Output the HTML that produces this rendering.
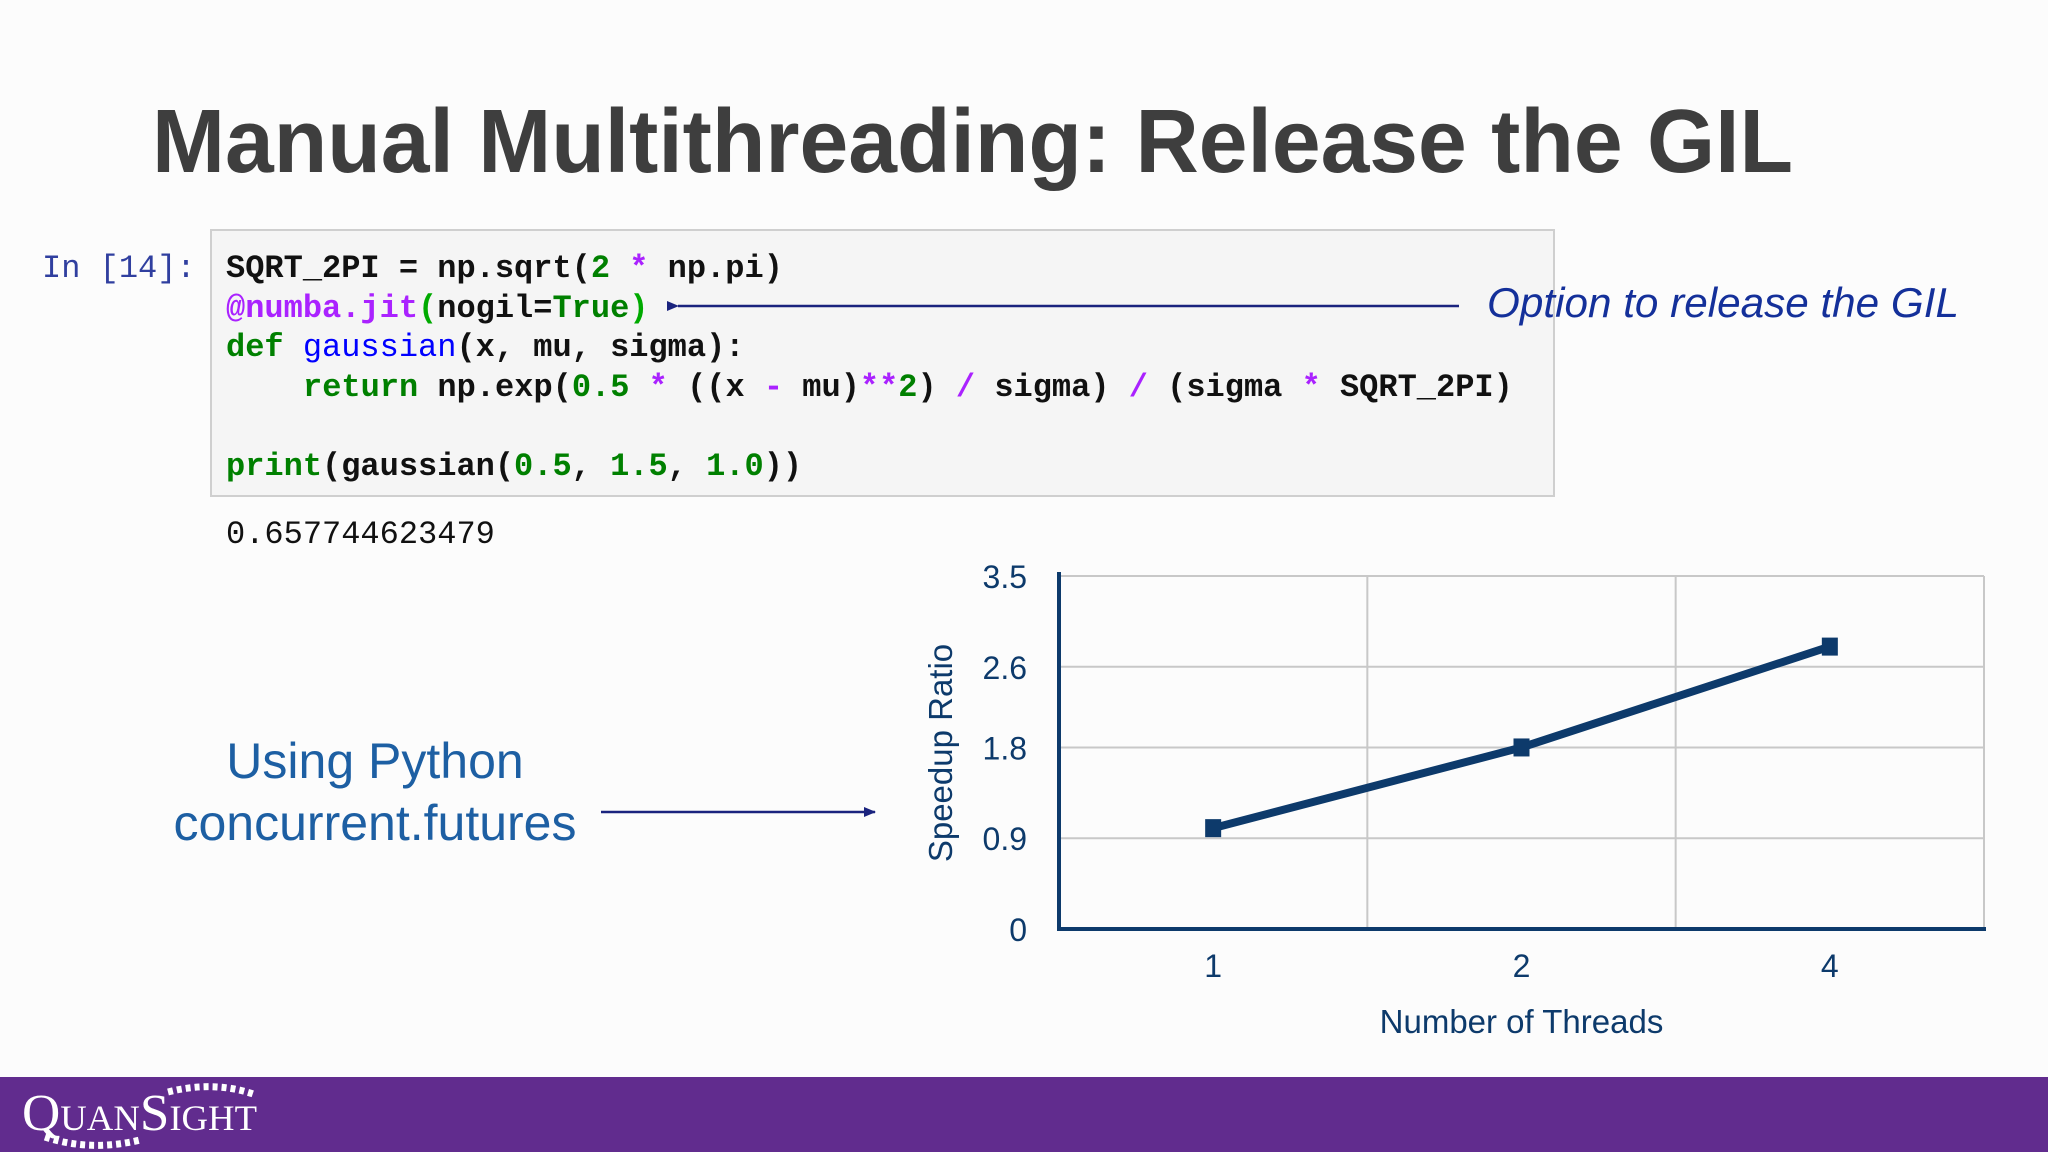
<!DOCTYPE html>
<html><head><meta charset="utf-8"><style>
html,body{margin:0;padding:0;width:2048px;height:1152px;overflow:hidden;background:#fcfcfc}
svg{display:block}
.mono{font-family:"Liberation Mono",monospace;font-size:32px;font-weight:bold;white-space:pre}
</style></head><body>
<svg width="2048" height="1152" viewBox="0 0 2048 1152">
<defs>
<marker id="ah" markerWidth="12" markerHeight="10" refX="1" refY="5" orient="auto" markerUnits="userSpaceOnUse"><path d="M12,0 L0,5 L12,10 Z" fill="#1a237e"/></marker>
<marker id="ah2" markerWidth="12" markerHeight="10" refX="11" refY="5" orient="auto" markerUnits="userSpaceOnUse"><path d="M0,0 L12,5 L0,10 Z" fill="#1a237e"/></marker>
</defs>
<rect width="2048" height="1152" fill="#fcfcfc"/>
<text x="152" y="172" font-family="Liberation Sans, sans-serif" font-weight="bold" font-size="90" fill="#3e3e3e" textLength="1641" lengthAdjust="spacingAndGlyphs">Manual Multithreading: Release the GIL</text>

<g>
<text x="42" y="277" class="mono" fill="#303f9f" style="font-weight:normal">In [14]:</text>
<rect x="211" y="230" width="1343" height="266" fill="#f5f5f5" stroke="#cfcfcf" stroke-width="2"/>
<text class="mono" x="226" y="277" fill="#111">SQRT_2PI = np.sqrt(<tspan fill="#008000">2</tspan> <tspan fill="#aa22ff">*</tspan> np.pi)</text>
<text class="mono" x="226" y="317" fill="#111"><tspan fill="#aa22ff">@numba.jit</tspan><tspan fill="#00aa00">(</tspan>nogil=<tspan fill="#008000">True</tspan><tspan fill="#00aa00">)</tspan></text>
<text class="mono" x="226" y="356" fill="#111"><tspan fill="#008000">def</tspan> <tspan fill="#0000ff" style="font-weight:normal">gaussian</tspan>(x, mu, sigma):</text>
<text class="mono" x="303" y="396" fill="#111"><tspan fill="#008000">return</tspan> np.exp(<tspan fill="#008000">0.5</tspan> <tspan fill="#aa22ff">*</tspan> ((x <tspan fill="#aa22ff">-</tspan> mu)<tspan fill="#aa22ff">**</tspan><tspan fill="#008000">2</tspan>) <tspan fill="#aa22ff">/</tspan> sigma) <tspan fill="#aa22ff">/</tspan> (sigma <tspan fill="#aa22ff">*</tspan> SQRT_2PI)</text>
<text class="mono" x="226" y="475" fill="#111"><tspan fill="#008000">print</tspan>(gaussian(<tspan fill="#008000">0.5</tspan>, <tspan fill="#008000">1.5</tspan>, <tspan fill="#008000">1.0</tspan>))</text>
<text class="mono" x="226" y="543" fill="#111" style="font-weight:normal">0.657744623479</text>
</g>

<line x1="1459" y1="306" x2="678" y2="306" stroke="#1a237e" stroke-width="2.5" marker-end="url(#ah)"/>
<text x="1487" y="317" font-family="Liberation Sans, sans-serif" font-style="italic" font-size="42" fill="#14309a" textLength="472" lengthAdjust="spacingAndGlyphs">Option to release the GIL</text>

<text font-family="Liberation Sans, sans-serif" font-size="50" fill="#1d5fa3" text-anchor="middle"><tspan x="375" y="778">Using Python</tspan><tspan x="375" y="840">concurrent.futures</tspan></text>
<line x1="601" y1="812" x2="875" y2="812" stroke="#1a237e" stroke-width="2.5" marker-end="url(#ah2)"/>

<g id="chart"></g>

<rect x="0" y="1077" width="2048" height="75" fill="#612c8e"/>
<text x="22" y="1130" font-family="Liberation Serif, serif" font-size="52" fill="#ffffff" style="font-variant:small-caps" textLength="235" lengthAdjust="spacingAndGlyphs">QuanSight</text>
<path d="M168,1092 Q215,1080 256,1095" stroke="#fff" stroke-width="7" stroke-dasharray="5,4" fill="none"/>
<path d="M45,1137 Q90,1152 140,1140" stroke="#fff" stroke-width="7" stroke-dasharray="5,4" fill="none"/>
</svg>
<script>
const categories = ["1","2","4"];
const speedup = [1.0, 1.8, 2.8];
const yTicks = [0, 0.9, 1.8, 2.6, 3.5];
const yMax = 3.5;
const NS='http://www.w3.org/2000/svg';
const g=document.getElementById('chart');
const L=1059,R=1984,T=576,B=929;
const bw=(R-L)/categories.length;
function xs(i){return L+bw*(i+0.5);}
function ys(v){return B-(B-T)*v/yMax;}
function mk(tag,attrs,text){const e=document.createElementNS(NS,tag);for(const k in attrs)e.setAttribute(k,attrs[k]);if(text!==undefined)e.textContent=text;g.appendChild(e);return e;}
yTicks.forEach(v=>{
  const gl=mk('line',{x1:L,x2:R,y1:ys(v),y2:ys(v),stroke:'#c8c8c8','stroke-width':2});
  
  
  const t=mk('text',{x:1027,y:ys(v)+12,'text-anchor':'end','font-family':'Liberation Sans, sans-serif','font-size':32,fill:'#0d3a6b'},String(v));
  
  
});
for(let i=1;i<=categories.length;i++){
  const vl=mk('line',{x1:L+bw*i,x2:L+bw*i,y1:T,y2:B,stroke:'#c8c8c8','stroke-width':2});
  
  
}
categories.forEach((c,i)=>{
  const t=mk('text',{x:xs(i),y:977,'text-anchor':'middle','font-family':'Liberation Sans, sans-serif','font-size':32,fill:'#0d3a6b'},c);
  
  
});
const ax=mk('path',{d:`M${L},${T-4} L${L},${B} L${R+2},${B}`,stroke:'#0d3a6b','stroke-width':4,fill:'none'});


const pts=speedup.map((v,i)=>xs(i)+','+ys(v)).join(' ');
const ln=mk('polyline',{points:pts,stroke:'#0d3a6b','stroke-width':8,fill:'none'});


speedup.forEach((v,i)=>{
  const m=mk('rect',{x:xs(i)-8,y:ys(v)-9,width:16,height:18,fill:'#0d3a6b'});
  
  
});
const xt=mk('text',{x:(L+R)/2,y:1033,'text-anchor':'middle','font-family':'Liberation Sans, sans-serif','font-size':33,fill:'#0d3a6b'},'Number of Threads');


const yt=mk('text',{x:0,y:0,transform:'translate(952,753) rotate(-90)','text-anchor':'middle','font-family':'Liberation Sans, sans-serif','font-size':33,fill:'#0d3a6b'},'Speedup Ratio');


</script>
</body></html>
